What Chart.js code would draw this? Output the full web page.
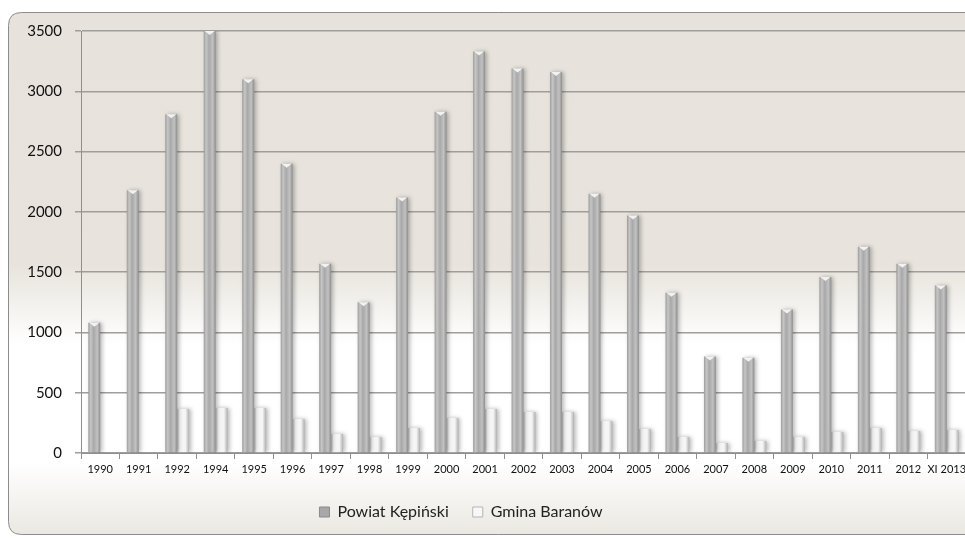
<!DOCTYPE html>
<html>
<head>
<meta charset="utf-8">
<script src="https://cdn.jsdelivr.net/npm/chart.js@4/dist/chart.umd.min.js"></script>
<style>
html,body{margin:0;padding:0;background:#ffffff;overflow:hidden;}
#wrap{width:965px;height:538px;position:relative;overflow:hidden;}
</style>
</head>
<body>
<div id="wrap"><canvas id="c" width="975" height="538"></canvas></div>
<script>
const categories = ['1990','1991','1992','1994','1995','1996','1997','1998','1999','2000','2001','2002','2003','2004','2005','2006','2007','2008','2009','2010','2011','2012','XI 2013'];
const powiatValues = [1080,2180,2810,3500,3100,2400,1570,1250,2120,2830,3330,3190,3160,2150,1970,1330,800,790,1190,1460,1710,1570,1390];
const gminaValues = [null,null,365,373,373,282,158,133,207,290,365,340,340,265,199,133,83,100,133,174,207,182,191];
const seriesNames = ['Powiat Kępiński','Gmina Baranów'];
const yMin = 0, yMax = 3500, yStep = 500;

const FONT = 'Lato, "Open Sans", "DejaVu Sans", sans-serif';

const bgPlugin = {
  id: 'bg',
  beforeDraw(chart) {
    const ctx = chart.ctx;
    ctx.save();
    const x = 8.5, y = 12.5, w = 1000, h = 522, r = 13;
    const g = ctx.createLinearGradient(0, y, 0, y + h);
    const H = h;
    g.addColorStop(0, '#e7e3dc');
    g.addColorStop((265 - y) / H, '#e8e4dd');
    g.addColorStop((345 - y) / H, '#ffffff');
    g.addColorStop((462 - y) / H, '#ffffff');
    g.addColorStop(1, '#ebe8e1');
    ctx.beginPath();
    ctx.moveTo(x + r, y);
    ctx.lineTo(x + w, y);
    ctx.lineTo(x + w, y + h);
    ctx.lineTo(x + r, y + h);
    ctx.quadraticCurveTo(x, y + h, x, y + h - r);
    ctx.lineTo(x, y + r);
    ctx.quadraticCurveTo(x, y, x + r, y);
    ctx.closePath();
    ctx.fillStyle = g;
    ctx.fill();
    ctx.strokeStyle = '#8c8c8c';
    ctx.lineWidth = 1;
    ctx.stroke();
    ctx.restore();
  }
};

const legendShiftPlugin = {
  id: 'legendShift',
  afterLayout(chart) {
    const lg = chart.legend;
    if (!lg) return;
    const target = 461;
    const c = (lg.left + lg.right) / 2;
    const d = target - c;
    if (d < 0) lg.right += 2 * d; else lg.left += 2 * d;
  }
};

const barStylePlugin = {
  id: 'barStyle',
  beforeDatasetsDraw(chart) {
    const ctx = chart.ctx;
    chart.data.datasets.forEach((ds, di) => {
      const meta = chart.getDatasetMeta(di);
      meta.data.forEach(el => {
        const p = el.getProps(['x', 'width'], true);
        const l = p.x - p.width / 2, rr = p.x + p.width / 2;
        const g = ctx.createLinearGradient(l, 0, rr, 0);
        if (di === 0) {
          g.addColorStop(0, '#9c9c9c');
          g.addColorStop(0.2, '#c6c6c6');
          g.addColorStop(0.45, '#a8a8a8');
          g.addColorStop(0.75, '#c2c2c2');
          g.addColorStop(1, '#8e8e8e');
        } else {
          g.addColorStop(0, '#c2c2c2');
          g.addColorStop(0.2, '#fbfbfb');
          g.addColorStop(0.7, '#f4f4f4');
          g.addColorStop(1, '#b0b0b0');
        }
        if (el.options) el.options.backgroundColor = g;
      });
    });
    ctx.save();
    ctx.shadowColor = 'rgba(0,0,0,0.28)';
    ctx.shadowBlur = 4;
    ctx.shadowOffsetX = 2;
    ctx.shadowOffsetY = 0;
  },
  afterDatasetsDraw(chart) {
    const ctx = chart.ctx;
    ctx.restore();
    ctx.save();
    const meta = chart.getDatasetMeta(0);
    meta.data.forEach(el => {
      const p = el.getProps(['x', 'y', 'width'], true);
      ctx.beginPath();
      ctx.moveTo(p.x - p.width / 2 + 1, p.y);
      ctx.lineTo(p.x + p.width / 2 - 1, p.y);
      ctx.lineTo(p.x, p.y + 4);
      ctx.closePath();
      ctx.fillStyle = 'rgba(245,245,245,0.95)';
      ctx.fill();
    });
    ctx.restore();
  }
};

new Chart(document.getElementById('c'), {
  type: 'bar',
  data: {
    labels: categories,
    datasets: [
      { label: seriesNames[0], data: powiatValues, backgroundColor: () => '#b0b0b0', borderWidth: 0,
        categoryPercentage: 0.62, barPercentage: 1.0 },
      { label: seriesNames[1], data: gminaValues, backgroundColor: () => '#f6f6f6', borderWidth: 0,
        categoryPercentage: 0.62, barPercentage: 1.0 }
    ]
  },
  options: {
    responsive: false,
    animation: false,
    devicePixelRatio: 1,
    layout: { padding: { left: 0, top: 31, right: 9, bottom: 8 } },
    plugins: {
      tooltip: { enabled: false },
      legend: {
        position: 'bottom',
        labels: {
          font: { family: FONT, size: 16 },
          color: '#222222',
          boxWidth: 10,
          boxHeight: 10,
          padding: 24,
          generateLabels(chart) {
            return seriesNames.map((n, i) => ({
              text: n,
              fillStyle: i === 0 ? '#a8a8a8' : '#f8f8f8',
              strokeStyle: i === 0 ? '#8a8a8a' : '#b5b5b5',
              lineWidth: 1,
              datasetIndex: i,
              hidden: false,
              fontColor: '#222222'
            }));
          }
        }
      }
    },
    scales: {
      x: {
        offset: true,
        grid: { display: true, drawOnChartArea: false, drawTicks: true, tickLength: 6, color: '#8f8f8f', offset: true },
        border: { color: '#8f8f8f', width: 1 },
        ticks: { font: { family: FONT, size: 11 }, color: '#111111', maxRotation: 0, minRotation: 0, autoSkip: false, padding: 4 },
        afterFit(scale) { scale.height = 27; }
      },
      y: {
        min: yMin, max: yMax,
        grid: { color: '#9f9e9a', lineWidth: 1.5, tickLength: 6, drawTicks: true },
        border: { color: '#8f8f8f', width: 1 },
        ticks: { stepSize: yStep, font: { family: FONT, size: 15 }, color: '#111111', padding: 13,
          callback: (v) => String(v) },
        afterFit(scale) { scale.width = 81; }
      }
    }
  },
  plugins: [bgPlugin, legendShiftPlugin, barStylePlugin]
});
</script>
</body>
</html>
